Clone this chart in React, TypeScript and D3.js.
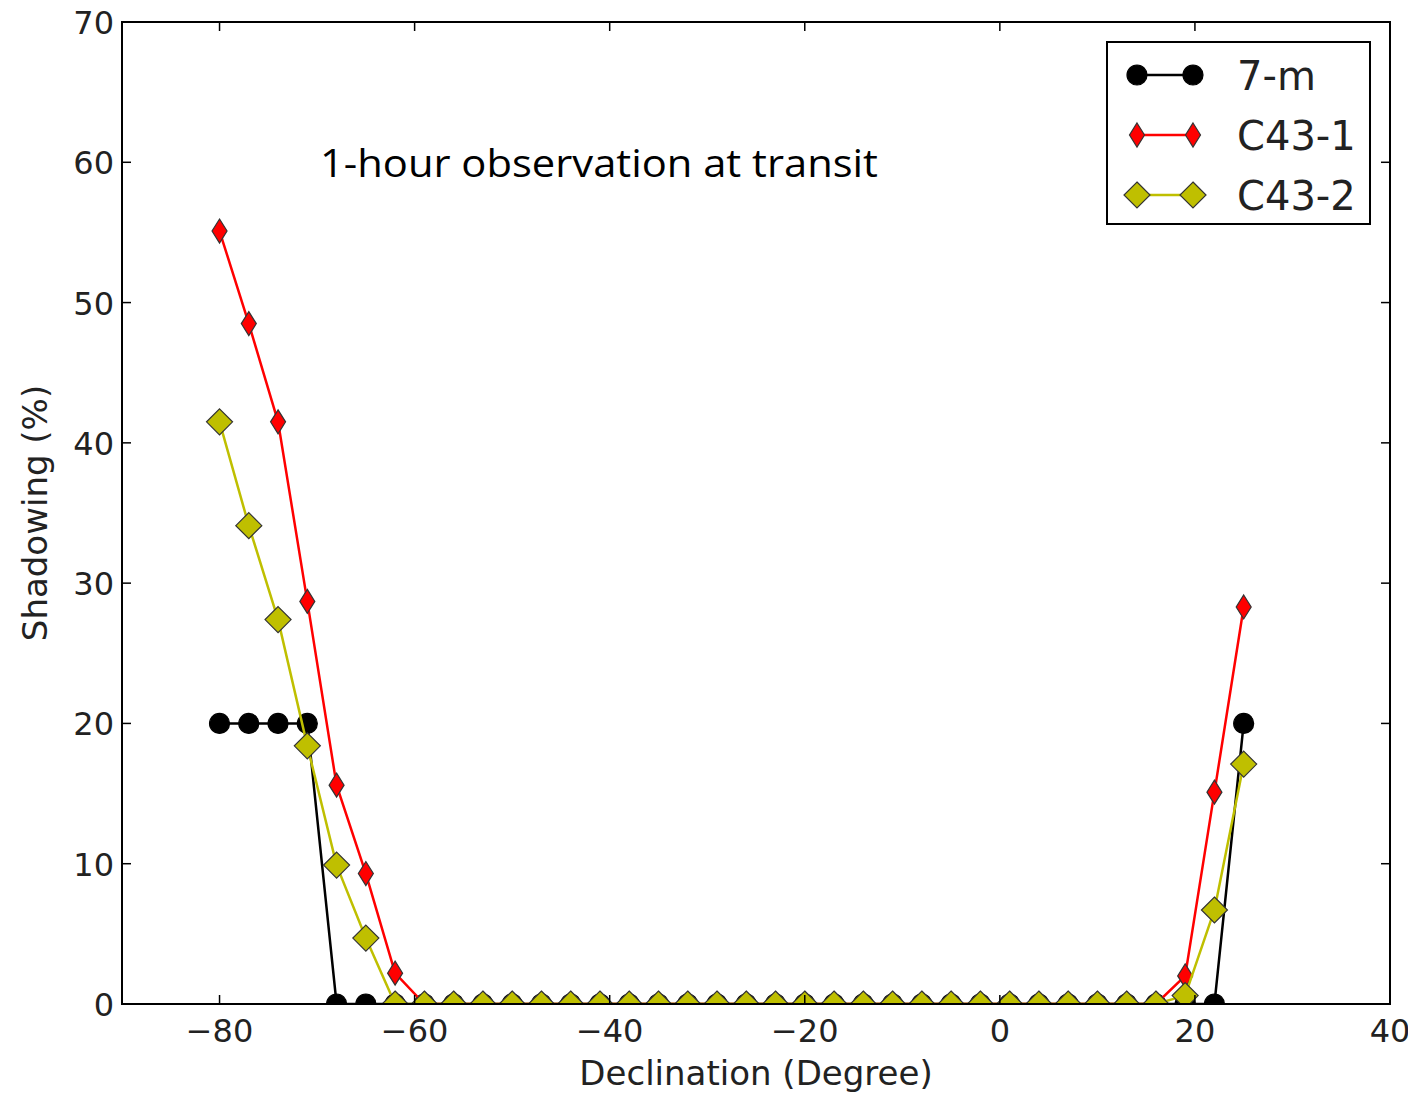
import { useEffect, useRef } from 'react'
import * as d3 from 'd3'

const declination = [
  -80, -77, -74, -71, -68, -65, -62, -59, -56, -53, -50, -47, -44, -41, -38, -35, -32, -29,
  -26, -23, -20, -17, -14, -11, -8, -5, -2, 1, 4, 7, 10, 13, 16, 19, 22, 25,
]
const sevenM = [
  20, 20, 20, 20, 0, 0, 0, 0, 0, 0, 0, 0, 0, 0, 0, 0, 0, 0,
  0, 0, 0, 0, 0, 0, 0, 0, 0, 0, 0, 0, 0, 0, 0, 0, 0, 20,
]
const c431 = [
  55.1, 48.5, 41.5, 28.7, 15.6, 9.3, 2.2, 0, 0, 0, 0, 0, 0, 0, 0, 0, 0, 0,
  0, 0, 0, 0, 0, 0, 0, 0, 0, 0, 0, 0, 0, 0, 0, 2.0, 15.1, 28.3,
]
const c432 = [
  41.5, 34.1, 27.4, 18.4, 9.9, 4.7, 0, 0, 0, 0, 0, 0, 0, 0, 0, 0, 0, 0,
  0, 0, 0, 0, 0, 0, 0, 0, 0, 0, 0, 0, 0, 0, 0, 0.6, 6.7, 17.1,
]
const xTicks = [-80, -60, -40, -20, 0, 20, 40]
const yTicks = [0, 10, 20, 30, 40, 50, 60, 70]

const series = [
  { name: '7-m', values: sevenM, color: '#000000', marker: 'circle' },
  { name: 'C43-1', values: c431, color: '#ff0000', marker: 'thin' },
  { name: 'C43-2', values: c432, color: '#bfbf00', marker: 'diamond' },
]

// layout is in page pixels; the svg sits at the body's 8px margin
const W = 1416
const H = 1095
const margin = { top: 22, right: 26, bottom: 91, left: 122 }
const FONT = '"DejaVu Sans", sans-serif'

function markerPath(kind: string) {
  if (kind === 'circle') return 'M-10,0A10,10 0 1,0 10,0A10,10 0 1,0 -10,0Z'
  if (kind === 'thin') return 'M0,-12L7.5,0L0,12L-7.5,0Z'
  return 'M0,-13L13,0L0,13L-13,0Z'
}

export default function App() {
  const svgRef = useRef<SVGSVGElement>(null)

  useEffect(() => {
    if (!svgRef.current) return
    const svg = d3.select(svgRef.current)
    svg.selectAll('*').remove()

    const x = d3.scaleLinear().domain([-90, 40]).range([margin.left, W - margin.right])
    const y = d3.scaleLinear().domain([0, 70]).range([H - margin.bottom, margin.top])
    const [x0, x1] = x.range()
    const [y0, y1] = y.range()

    svg.append('defs').append('clipPath').attr('id', 'plotClip')
      .append('rect').attr('x', x0).attr('y', y1).attr('width', x1 - x0).attr('height', y0 - y1)

    const root = svg.append('g').attr('transform', 'translate(-8,-8)')
    const plot = root.append('g').attr('clip-path', 'url(#plotClip)')
    const line = d3.line<number>().x((_, i) => x(declination[i])).y(d => y(d))

    series.forEach(s => {
      plot.append('path')
        .attr('d', line(s.values))
        .attr('fill', 'none')
        .attr('stroke', s.color)
        .attr('stroke-width', 2.5)
      plot.selectAll(null)
        .data(s.values)
        .join('path')
        .attr('d', markerPath(s.marker))
        .attr('transform', (d, i) => `translate(${x(declination[i])},${y(d)})`)
        .attr('fill', s.color)
        .attr('stroke', s.marker === 'circle' ? '#000' : '#333')
        .attr('stroke-width', 1.2)
    })

    const g = root.append('g')
    g.append('rect')
      .attr('x', x0).attr('y', y1).attr('width', x1 - x0).attr('height', y0 - y1)
      .attr('fill', 'none').attr('stroke', '#000').attr('stroke-width', 2)

    xTicks.forEach(t => {
      g.append('line').attr('x1', x(t)).attr('x2', x(t)).attr('y1', y0).attr('y2', y0 - 9)
        .attr('stroke', '#000').attr('stroke-width', 1.5)
      g.append('line').attr('x1', x(t)).attr('x2', x(t)).attr('y1', y1).attr('y2', y1 + 9)
        .attr('stroke', '#000').attr('stroke-width', 1.5)
      g.append('text')
        .attr('x', x(t)).attr('y', y0 + 38)
        .attr('text-anchor', 'middle')
        .attr('font-family', FONT).attr('font-size', 32).attr('fill', '#222')
        .text(t < 0 ? `\u2212${Math.abs(t)}` : String(t))
    })

    yTicks.forEach(t => {
      g.append('line').attr('x1', x0).attr('x2', x0 + 9).attr('y1', y(t)).attr('y2', y(t))
        .attr('stroke', '#000').attr('stroke-width', 1.5)
      g.append('line').attr('x1', x1).attr('x2', x1 - 9).attr('y1', y(t)).attr('y2', y(t))
        .attr('stroke', '#000').attr('stroke-width', 1.5)
      g.append('text')
        .attr('x', x0 - 8).attr('y', y(t) + 12)
        .attr('text-anchor', 'end')
        .attr('font-family', FONT).attr('font-size', 32).attr('fill', '#222')
        .text(String(t))
    })

    g.append('text')
      .attr('x', (x0 + x1) / 2).attr('y', y0 + 81)
      .attr('text-anchor', 'middle')
      .attr('font-family', FONT).attr('font-size', 34).attr('fill', '#222')
      .text('Declination (Degree)')

    g.append('text')
      .attr('transform', `translate(${47},${(y0 + y1) / 2}) rotate(-90)`)
      .attr('text-anchor', 'middle')
      .attr('font-family', FONT).attr('font-size', 34).attr('fill', '#222')
      .text('Shadowing (%)')

    g.append('text')
      .attr('x', 320).attr('y', 177)
      .attr('font-family', '"Open Sans", sans-serif').attr('font-size', 38).attr('fill', '#000')
      .attr('textLength', 558).attr('lengthAdjust', 'spacingAndGlyphs')
      .text('1-hour observation at transit')

    // Legend
    const lg = g.append('g').attr('transform', 'translate(1107,42)')
    lg.append('rect').attr('x', 0).attr('y', 0).attr('width', 263).attr('height', 182)
      .attr('fill', '#fff').attr('stroke', '#000').attr('stroke-width', 2)
    series.forEach((s, i) => {
      const cy = 33 + i * 60
      lg.append('line').attr('x1', 30).attr('x2', 86).attr('y1', cy).attr('y2', cy)
        .attr('stroke', s.color).attr('stroke-width', 2.5)
      ;[30, 86].forEach(cx => {
        lg.append('path').attr('d', markerPath(s.marker))
          .attr('transform', `translate(${cx},${cy})`)
          .attr('fill', s.color)
          .attr('stroke', s.marker === 'circle' ? '#000' : '#333')
          .attr('stroke-width', 1.2)
      })
      lg.append('text')
        .attr('x', 130).attr('y', cy + 15)
        .attr('font-family', FONT).attr('font-size', 40).attr('fill', '#222')
        .text(s.name)
    })
  }, [])

  return (
    <svg ref={svgRef} width={W - 8} height={H - 8}
      style={{ display: 'block', overflow: 'visible' }} />
  )
}
